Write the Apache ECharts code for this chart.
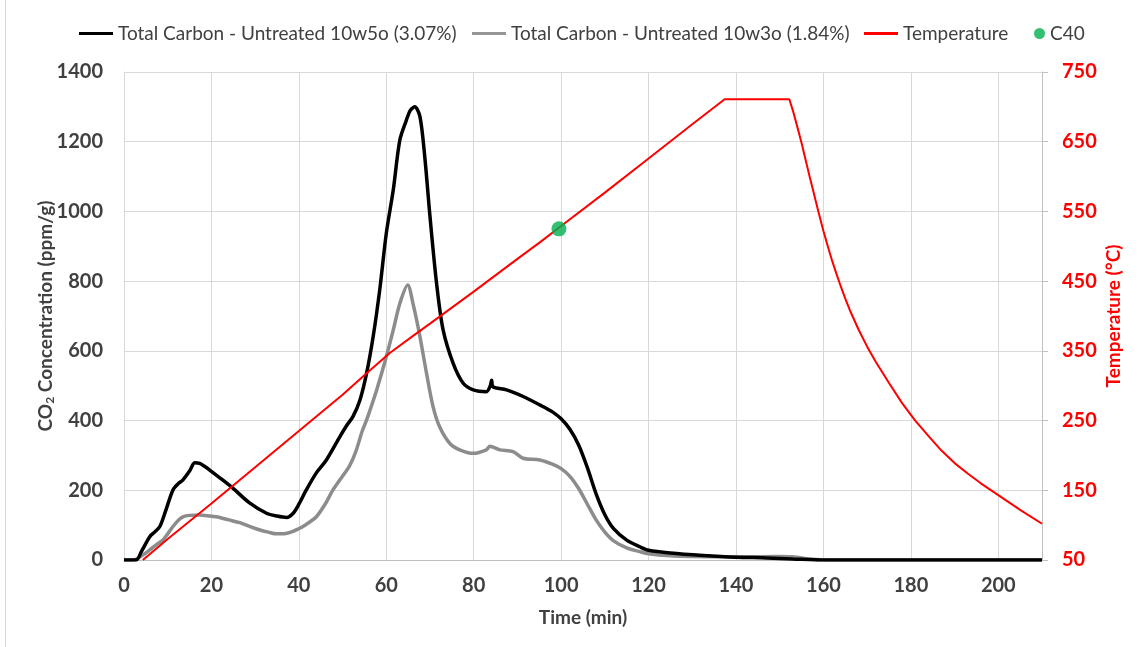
<!DOCTYPE html>
<html>
<head>
<meta charset="utf-8">
<script src="https://cdn.jsdelivr.net/npm/echarts@6/dist/echarts.min.js"></script>
<style>
html,body{margin:0;padding:0;background:#fff;}
#chart{width:1141px;height:647px;}
</style>
</head>
<body>
<div id="chart"></div>
<script>
const xTicks = [0, 20, 40, 60, 80, 100, 120, 140, 160, 180, 200];
const leftTicks = [0, 200, 400, 600, 800, 1000, 1200, 1400];
const rightTicks = [50, 150, 250, 350, 450, 550, 650, 750];

const names = ['Total Carbon - Untreated 10w5o (3.07%)', 'Total Carbon - Untreated 10w3o (1.84%)', 'Temperature', 'C40'];

const tBlack = [0,2.8,4,5.9,7,8.2,9.5,11.2,12.5,13.5,15,16.2,17.3,18.5,19.6,22,24.9,28.8,32.6,35,37.2,38.7,40,41.7,44,46.3,49.4,50.9,52.4,54,55.5,57,58.5,60,61.6,63.1,64.6,65.5,66.5,67.7,68.8,70,71.5,73,75.3,77.6,79.9,82.9,83.8,84.1,84.4,87.5,91.3,95.1,98,100,102,104,106,108,110,112,115,118,120,125,132.5,140,147,153,159.4,165,210];
const vBlack = [0,0,25,67,80,96,140,201,220,230,255,279,277,268,258,235,206,163,134,126,122,134,160,201,250,287,354,385,412,460,536,641,775,937,1062,1205,1262,1290,1300,1272,1157,985,794,660,564,507,488,483,500,516,497,488,469,445,425,405,375,330,265,190,130,90,57,38,28,20,13,8,6,3,0,0,0];

const tGray = [0,2,4,5.9,7.5,8.9,10,11.2,12.5,13.5,15,17.3,19,21.1,24,26.5,29,31.1,33,34.9,37,40.2,42,44,46,47.8,49.4,51.6,53,54.5,55.5,57.8,60,61.6,63.1,64.9,66.1,67.7,69.2,70.7,72.2,74.5,76.8,79.9,82.9,83.7,86,89,91.3,95.1,98,100,102,104,106,108,110,112,115,118,120,125,130,140,150,153,157,162,210];
const vGray = [0,0,12,29,45,57,75,96,115,124,128,129,127,124,115,107,95,86,80,75,76,91,105,124,160,201,230,270,310,370,402,488,583,660,736,789,736,641,536,440,382,335,316,306,316,326,316,311,292,287,275,262,240,205,160,115,80,55,35,24,18,12,10,9,10,9,3,0,0];

const tTemp = [4.3,10,20,30,40,50,55.5,60.8,66.9,70,80,90,95.2,100,110,120,130,137.4,152.2,153,154,155,156,157,158,159,160,161,162,163,164,165,166,168,170,172,175,178,181,184,187,190,193,196,200,205,210];
const vTemp = [50,80,131,183,235,287,318,347,375,389,435,482,506,529,577,626,675,711,711,695,672,648,622,596,571,546,522,500,479,460,442,425,409,381,356,334,304,275,250,228,207,189,174,160,143,122,102];

const tC40 = [99.5];
const vC40 = [525];

const pair = (t, v) => t.map((x, i) => [x, v[i]]);

const FONT = 'Lato';
const GRAY_TXT = '#404040';

const chart = echarts.init(document.getElementById('chart'), null, {renderer: 'canvas'});

function legendAt(left, name, icon, w, h) {
  return {
    left: left, top: 19, data: [{name: name, icon: icon}],
    itemWidth: w, itemHeight: h, itemGap: 0,
    textStyle: {fontFamily: FONT, fontSize: 19, color: GRAY_TXT},
    selectedMode: false
  };
}

chart.setOption({
  animation: false,
  backgroundColor: '#fff',
  graphic: [{type: 'line', shape: {x1: 5.5, y1: 0, x2: 5.5, y2: 647}, style: {stroke: '#d9d9d9', lineWidth: 1}, silent: true}],
  legend: [
    legendAt(74, names[0], 'rect', 34, 3),
    legendAt(467, names[1], 'rect', 34, 3),
    legendAt(859, names[2], 'rect', 34, 3),
    legendAt(1029, names[3], 'circle', 11, 11)
  ],
  grid: {left: 124, right: 99, top: 72, bottom: 87, containLabel: false},
  xAxis: {
    type: 'value', min: 0, max: 210, interval: 20,
    name: 'Time (min)', nameLocation: 'middle', nameGap: 48, nameMoveOverlap: false,
    nameTextStyle: {fontFamily: FONT, fontSize: 19, fontWeight: 'bold', color: GRAY_TXT},
    axisLine: {show: true, lineStyle: {color: '#bfbfbf', width: 1}},
    axisTick: {show: false},
    axisLabel: {fontFamily: FONT, fontSize: 20, fontWeight: 'bold', color: GRAY_TXT, margin: 16,
      formatter: v => xTicks.includes(v) ? String(v) : ''},
    splitLine: {show: true, lineStyle: {color: '#d9d9d9', width: 1}}
  },
  yAxis: [
    {
      type: 'value', min: 0, max: 1400, interval: 200, position: 'left',
      name: 'CO{sub|2} Concentration (ppm/g)', nameLocation: 'middle', nameGap: 68, nameRotate: 90, nameMoveOverlap: false,
      nameTextStyle: {fontFamily: FONT, fontSize: 19, fontWeight: 'bold', color: GRAY_TXT,
        rich: {sub: {fontFamily: FONT, fontSize: 12, fontWeight: 'bold', color: GRAY_TXT, verticalAlign: 'bottom', padding: [8,0,0,0]}}},
      axisLine: {show: true, lineStyle: {color: '#d9d9d9'}},
      axisTick: {show: false},
      axisLabel: {fontFamily: FONT, fontSize: 20, fontWeight: 'bold', color: GRAY_TXT, margin: 21,
        formatter: v => leftTicks.includes(v) ? String(v) : ''},
      splitLine: {show: true, lineStyle: {color: '#d9d9d9', width: 1}}
    },
    {
      type: 'value', min: 50, max: 750, interval: 100, position: 'right',
      name: 'Temperature (°C)', nameLocation: 'middle', nameGap: 62, nameRotate: 90, nameMoveOverlap: false,
      nameTextStyle: {fontFamily: FONT, fontSize: 19, fontWeight: 'bold', color: '#ff0000'},
      axisLine: {show: true, lineStyle: {color: '#bfbfbf'}},
      axisTick: {show: true, inside: false, length: 6, lineStyle: {color: '#bfbfbf'}},
      axisLabel: {fontFamily: FONT, fontSize: 20, fontWeight: 'bold', color: '#ff0000', margin: 20,
        formatter: v => rightTicks.includes(v) ? String(v) : ''},
      splitLine: {show: false}
    }
  ],
  series: [
    {name: names[0], type: 'line', yAxisIndex: 0, data: pair(tBlack, vBlack), showSymbol: false, symbol: 'none',
      smooth: 0.3, lineStyle: {color: '#000000', width: 3.5}, itemStyle: {color: '#000000'}, z: 3},
    {name: names[1], type: 'line', yAxisIndex: 0, data: pair(tGray, vGray), showSymbol: false, symbol: 'none',
      smooth: 0.3, lineStyle: {color: '#8c8c8c', width: 3.5}, itemStyle: {color: '#969696'}, z: 2},
    {name: names[2], type: 'line', yAxisIndex: 1, data: pair(tTemp, vTemp), showSymbol: false, symbol: 'none',
      smooth: false, lineStyle: {color: '#ff0000', width: 2}, itemStyle: {color: '#ff0000'}, z: 4},
    {name: names[3], type: 'scatter', yAxisIndex: 1, data: pair(tC40, vC40), symbol: 'circle', symbolSize: 15,
      itemStyle: {color: '#00b050'}, z: 5}
  ]
});
</script>
</body>
</html>
